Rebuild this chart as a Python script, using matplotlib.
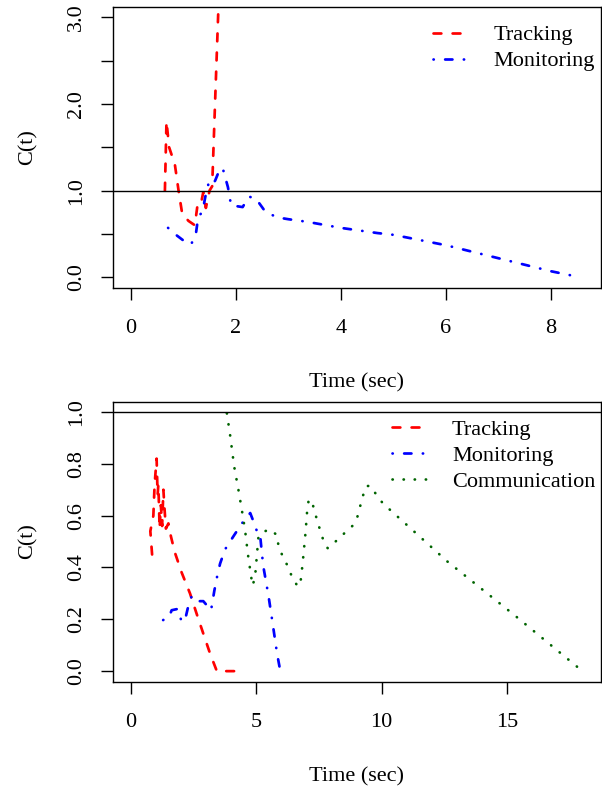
import matplotlib
matplotlib.use('Agg')
import matplotlib.pyplot as plt

plt.rcParams['font.family'] = ['Liberation Serif', 'DejaVu Serif']
plt.rcParams['font.size'] = 16

# top panel
trk1_x = [0.65, 0.68, 0.73, 0.84, 0.91, 0.98, 1.10, 1.22, 1.27, 1.33, 1.38, 1.43, 1.50, 1.55, 1.61, 1.68]
trk1_y = [1.00, 1.80, 1.50, 1.30, 1.00, 0.73, 0.65, 0.60, 0.83, 0.83, 0.98, 0.80, 1.00, 1.05, 2.10, 3.30]
mon1_x = [0.71, 0.86, 0.99, 1.15, 1.24, 1.28, 1.37, 1.42, 1.48, 1.55, 1.61, 1.69, 1.75, 1.85, 1.91,
          2.13, 2.25, 2.38, 2.57, 2.80, 3.00, 3.36, 4.00, 4.70, 5.00, 6.00, 7.00, 8.00, 8.56]
mon1_y = [0.57, 0.49, 0.43, 0.38, 0.50, 0.68, 0.77, 0.93, 1.08, 1.05, 1.12, 1.24, 1.26, 1.04, 0.83,
          0.81, 0.93, 0.91, 0.75, 0.69, 0.67, 0.64, 0.57, 0.51, 0.49, 0.37, 0.22, 0.07, 0.00]

# bottom panel
trk2_x = [0.85, 0.78, 0.90, 0.95, 1.03, 1.07, 1.10, 1.15, 1.20, 1.25, 1.30, 1.35, 1.40, 1.50, 1.60,
          1.75, 2.03, 2.36, 2.63, 2.89, 3.16, 3.43, 4.56]
trk2_y = [0.45, 0.54, 0.60, 0.72, 0.82, 0.68, 0.72, 0.55, 0.64, 0.56, 0.70, 0.62, 0.55, 0.57, 0.52,
          0.46, 0.38, 0.30, 0.22, 0.145, 0.068, 0.00, 0.00]
mon2_x = [1.29, 1.53, 1.63, 1.87, 2.03, 2.17, 2.29, 2.43, 2.65, 2.89, 3.20, 3.33, 3.43, 3.56, 3.76,
          4.09, 4.43, 4.76, 4.96, 5.09, 5.16, 5.23, 5.29, 5.49, 5.63, 5.83, 5.96]
mon2_y = [0.197, 0.21, 0.235, 0.24, 0.19, 0.20, 0.25, 0.29, 0.27, 0.27, 0.235, 0.31, 0.36, 0.415, 0.47,
          0.52, 0.57, 0.61, 0.56, 0.52, 0.52, 0.45, 0.40, 0.29, 0.20, 0.068, 0.00]
com2_x = [3.83, 3.96, 4.12, 4.29, 4.43, 4.56, 4.67, 4.79, 4.85, 4.95, 5.09, 5.23, 5.53, 5.83, 5.89,
          6.07, 6.23, 6.40, 6.63, 6.75, 6.85, 6.97, 7.03, 7.09, 7.20, 7.32, 7.43, 7.56, 7.69, 7.85,
          8.16, 8.49, 8.83, 9.03, 9.25, 9.39, 9.56, 9.79, 10.05, 12.63, 15.29, 18.0]
com2_y = [0.995, 0.91, 0.79, 0.70, 0.62, 0.54, 0.45, 0.37, 0.33, 0.36, 0.52, 0.535, 0.547, 0.525, 0.48,
          0.44, 0.41, 0.37, 0.33, 0.33, 0.416, 0.54, 0.62, 0.66, 0.66, 0.62, 0.58, 0.54, 0.50, 0.474,
          0.50, 0.53, 0.56, 0.595, 0.676, 0.714, 0.715, 0.68, 0.647, 0.422, 0.216, 0.0]

lw = 1.95
dash_trk = (2.9, 4.15)
dash_mon = (0.1, 4.2, 2.7, 4.2)
dash_com = (0.1, 4.0)

fig = plt.figure(figsize=(6.02, 7.86), dpi=100)
ax1 = fig.add_axes([112.7 / 602, 1 - 287.7 / 786, (600.5 - 112.7) / 602, (287.7 - 6.8) / 786])
ax2 = fig.add_axes([112.7 / 602, 1 - 681.5 / 786, (600.5 - 112.7) / 602, (681.5 - 401.6) / 786])


def style(ax):
    for s in ax.spines.values():
        s.set_linewidth(1.0)
    ax.tick_params(direction='out', length=8.6, width=1.0, labelsize=16)
    ax.tick_params(axis='x', pad=14.2)
    ax.tick_params(axis='y', pad=10.6, labelrotation=90)
    for lab in ax.get_yticklabels():
        lab.set_va('center')
    ax.set_xlabel('Time (sec)', labelpad=24.9)
    ax.set_ylabel('C(t)', labelpad=21.5)


def add_legend(ax, x):
    ax.legend(loc='upper left', bbox_to_anchor=(x, 0.9357), frameon=False, borderpad=0,
              borderaxespad=0, handlelength=1.58, handletextpad=1.12, labelspacing=0.245, fontsize=16)


ax1.plot(trk1_x, trk1_y, color='red', lw=lw, dashes=dash_trk, dash_capstyle='round', label='Tracking')
ax1.plot(mon1_x, mon1_y, color='blue', lw=lw, dashes=dash_mon, dash_capstyle='round', label='Monitoring')
ax1.axhline(1.0, color='black', lw=1.0)
ax1.set_xlim(-0.344, 8.944)
ax1.set_ylim(-0.12, 3.12)
ax1.set_xticks([0, 2, 4, 6, 8])
ax1.set_yticks([0, 0.5, 1, 1.5, 2, 2.5, 3])
ax1.set_yticklabels(['0.0', '', '1.0', '', '2.0', '', '3.0'])
style(ax1)
add_legend(ax1, 0.657)

ax2.plot(trk2_x, trk2_y, color='red', lw=lw, dashes=dash_trk, dash_capstyle='round', label='Tracking')
ax2.plot(mon2_x, mon2_y, color='blue', lw=lw, dashes=dash_mon, dash_capstyle='round', label='Monitoring')
ax2.plot(com2_x, com2_y, color='darkgreen', lw=lw, dashes=dash_com, dash_capstyle='round', label='Communication')
ax2.axhline(1.0, color='black', lw=1.0)
ax2.set_xlim(-0.72, 18.72)
ax2.set_ylim(-0.04, 1.04)
ax2.set_xticks([0, 5, 10, 15])
ax2.set_yticks([0, 0.2, 0.4, 0.6, 0.8, 1.0])
ax2.set_yticklabels(['0.0', '0.2', '0.4', '0.6', '0.8', '1.0'])
style(ax2)
add_legend(ax2, 0.5726)

fig.savefig('out.png', dpi=100)
